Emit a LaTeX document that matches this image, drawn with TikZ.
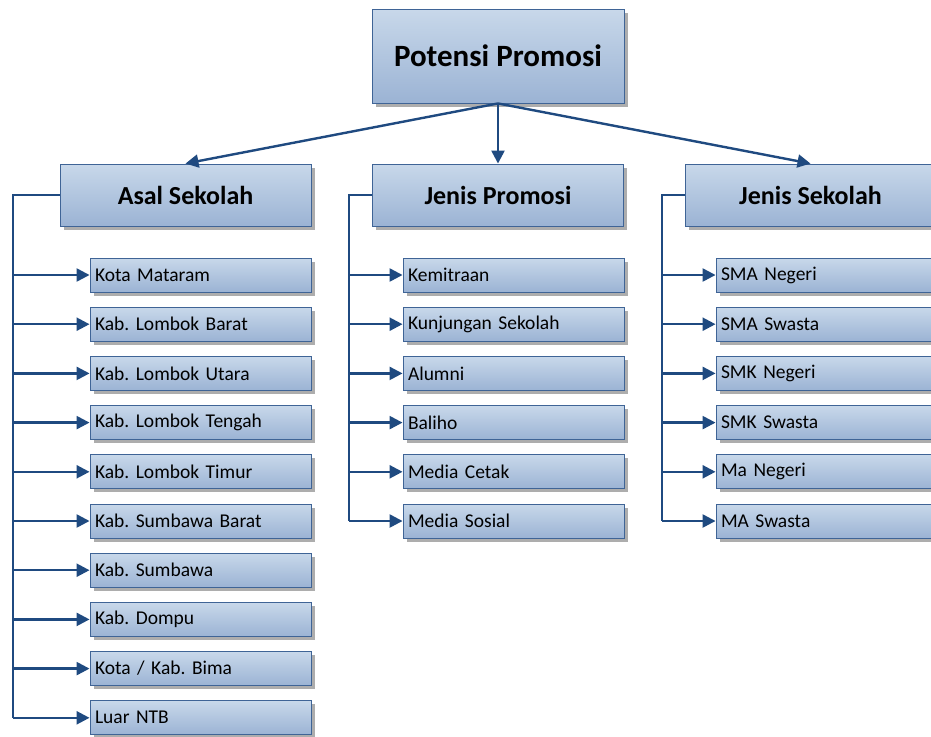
\documentclass[tikz,border=0pt]{standalone}
\usepackage{fontspec}
\setmainfont{Carlito}
\usetikzlibrary{arrows.meta,shadows}
\definecolor{boxtop}{HTML}{C8D8EA}
\definecolor{boxbot}{HTML}{9BB3D4}
\definecolor{boxline}{HTML}{3F6496}
\definecolor{linkcol}{HTML}{1F4A80}
\frenchspacing
\tikzset{
  box/.style={rectangle, draw=boxline, line width=0.9pt, top color=boxtop, bottom color=boxbot,
    drop shadow={shadow xshift=3.5pt, shadow yshift=-3.5pt, fill=black!32, opacity=1}},
  rootbox/.style={box, minimum width=252pt, minimum height=94pt, font=\fontsize{31}{36}\selectfont\bfseries},
  headbox/.style={box, minimum width=251pt, minimum height=62pt, font=\fontsize{26}{30}\selectfont\bfseries},
  itembox/.style={box, minimum width=221pt, minimum height=34pt, inner xsep=5pt, inner ysep=0pt,
    text width=211pt, align=left, font=\fontsize{19.5}{22}\selectfont},
  link/.style={draw=linkcol, line width=2.4pt},
  arr/.style={link, -{Triangle[length=13pt,width=13pt]}},
}
\begin{document}
\begin{tikzpicture}[x=1pt,y=-1pt]
\useasboundingbox (0,0) rectangle (931,736);

% root and the three category heads
\node[rootbox] (root) at (498,56) {Potensi Promosi};
\node[headbox] (asal) at (185.5,195) {Asal Sekolah};
\node[headbox] (jp) at (498,195) {Jenis Promosi};
\node[headbox] (js) at (810.5,195) {Jenis Sekolah};

\draw[arr] (root.south) -- (asal.north);
\draw[arr] (root.south) -- (jp.north);
\draw[arr] (root.south) -- (js.north);

% items under each head
\foreach \t [count=\i] in {Kota Mataram, Kab. Lombok Barat, Kab. Lombok Utara, Kab. Lombok Tengah,
  Kab. Lombok Timur, Kab. Sumbawa Barat, Kab. Sumbawa, Kab. Dompu, Kota / Kab. Bima, Luar NTB}
  \node[itembox] (a\i) at (200.5,{275+(\i-1)*49.2}) {\t};
\foreach \t [count=\i] in {Kemitraan, Kunjungan Sekolah, Alumni, Baliho, Media Cetak, Media Sosial}
  \node[itembox] (p\i) at (513.5,{275+(\i-1)*49.2}) {\t};
\foreach \t [count=\i] in {SMA Negeri, SMA Swasta, SMK Negeri, SMK Swasta, Ma Negeri, MA Swasta}
  \node[itembox] (s\i) at (826.5,{275+(\i-1)*49.2}) {\t};

% bus lines
\coordinate (abus) at (13,195);
\coordinate (pbus) at (349,195);
\coordinate (sbus) at (662,195);

\draw[link] (asal.west) -- (abus) -- (abus |- a10.west);
\draw[link] (jp.west) -- (pbus) -- (pbus |- p6.west);
\draw[link] (js.west) -- (sbus) -- (sbus |- s6.west);

\foreach \i in {1,...,10}
  \draw[arr] (abus |- a\i.west) -- (a\i.west);
\foreach \i in {1,...,6}{
  \draw[arr] (pbus |- p\i.west) -- (p\i.west);
  \draw[arr] (sbus |- s\i.west) -- (s\i.west);
}
\end{tikzpicture}
\end{document}
